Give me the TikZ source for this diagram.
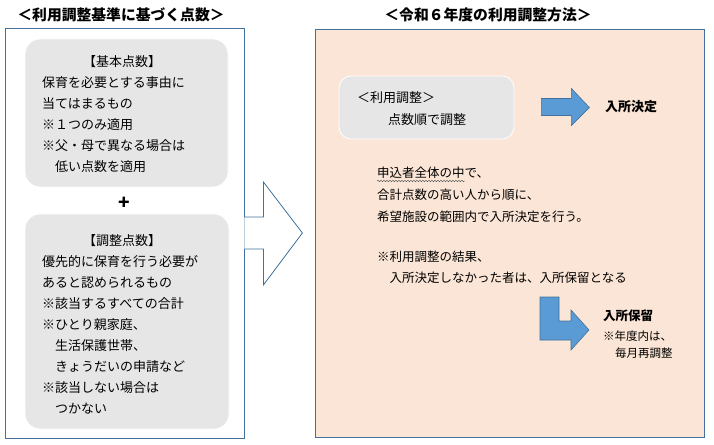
\documentclass[tikz,border=0pt]{standalone}
\usepackage{fontspec}
\setmainfont{Noto Sans CJK JP}
\usetikzlibrary{positioning,decorations.pathmorphing}
\definecolor{edge}{HTML}{41719C}
\definecolor{peach}{HTML}{FBE5D6}
\definecolor{mist}{HTML}{E7E6E6}
\definecolor{sky}{HTML}{5B9BD5}

\begin{document}
\begin{tikzpicture}[
 x=1pt,y=-1pt,
 panel/.style={draw=edge,line width=0.8pt},
 card/.style={fill=mist,draw=white,line width=0.8pt},
 txt/.style={anchor=west,inner sep=0pt,font=\fontsize{13}{15}\selectfont},
 note/.style={anchor=west,inner sep=0pt,font=\fontsize{12.5}{15}\selectfont},
 small/.style={anchor=west,inner sep=0pt,font=\fontsize{11.5}{14}\selectfont},
 head/.style={inner sep=0pt,font=\fontsize{14.8}{18}\selectfont\bfseries},
 barrow/.style={fill=sky,draw=edge,line width=0.6pt,line join=miter}
]
\useasboundingbox (0,0) rectangle (714,444);
% titles
\node[head] (ltitle) at (121,15) {＜利用調整基準に基づく点数＞};
\node[head] (rtitle) at (488,15) {＜令和６年度の利用調整方法＞};
% panels
\node[panel,fill=white,minimum width=239,minimum height=410] (left) at (124.5,233) {};
\node[panel,fill=peach,minimum width=389,minimum height=408] (right) at (509.5,233) {};
% hollow arrow between panels
\draw[panel,fill=white,line join=miter,shift={(left.east)}]
 (0,-16)--(19,-16)--(19,-51)--(58,0)--(19,52)--(19,16)--(0,16);
% left cards
\node[card,rounded corners=15pt,minimum width=203,minimum height=148] (basic) at (126.5,113) {};
\node[card,rounded corners=15pt,minimum width=204,minimum height=215] (extra) at (127,321.5) {};
\node[txt,anchor=center] (basichead) at (122,62) {【基本点数】};
\foreach \t [count=\i] in {保育を必要とする事由に,当てはまるもの,※１つのみ適用,
 ※父・母で異なる場合は,\quad 低い点数を適用}
 \node[txt] (basic\i) at (42,62+21*\i) {\t};
\node[inner sep=0pt,font=\fontsize{19}{19}\selectfont\bfseries] (plus) at (124,203) {+};
\node[txt,anchor=center] (extrahead) at (122,241) {【調整点数】};
\foreach \t [count=\i] in {優先的に保育を行う必要が,あると認められるもの,※該当するすべての合計,
 ※ひとり親家庭、,\quad 生活保護世帯、,\quad きょうだいの申請など,※該当しない場合は,\quad つかない}
 \node[txt] (extra\i) at (42,241+21*\i) {\t};
% right side
\node[card,rounded corners=12pt,minimum width=175,minimum height=63] (order) at (426.5,107.5) {};
\node[txt] (ordera) at (357,98) {＜利用調整＞};
\node[txt,anchor=center] (orderb) at (427,120) {点数順で調整};
\draw[barrow,shift={(order.east)}]
 (27,-9)--(57,-9)--(57,-19)--(75,0)--(57,18)--(57,8)--(27,8)--cycle;
\node[txt,font=\fontsize{13}{15}\selectfont\bfseries] (admit) at (605,107) {入所決定};
\foreach \t/\y [count=\i] in {申込者全体の中で、/173,合計点数の高い人から順に、/195,
 希望施設の範囲内で入所決定を行う。/217,※利用調整の結果、/257,\quad 入所決定しなかった者は、入所保留となる/278}
 \node[note] (rule\i) at (377,\y) {\t};
\draw[black!70,decorate,decoration={snake,amplitude=0.7pt,segment length=3pt}]
 ([yshift=-2pt]rule1.south west) -- ++(88,0);
\coordinate (bend) at (540,297);
\draw[barrow,shift={(bend)}]
 (0,0)--(19,0)--(19,24)--(31,24)--(31,13)--(49,33)--(31,53)--(31,43)--(0,43)--cycle;
\node[note,font=\fontsize{12.5}{15}\selectfont\bfseries] (hold) at (603,316) {入所保留};
\node[small] (hold1) at (603,336) {※年度内は、};
\node[small] (hold2) at (615,353) {毎月再調整};
\end{tikzpicture}
\end{document}
